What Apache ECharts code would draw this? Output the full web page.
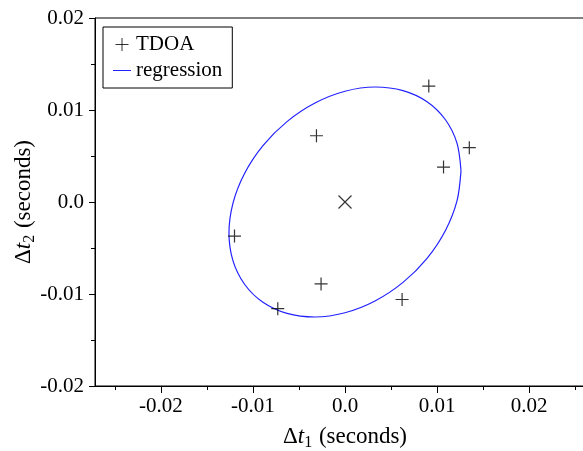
<!DOCTYPE html>
<html>
<head>
<meta charset="utf-8">
<script src="https://cdn.jsdelivr.net/npm/echarts@6/dist/echarts.min.js"></script>
<style>html,body{margin:0;padding:0;background:#fff;}#c{width:583px;height:451px;}</style>
</head>
<body>
<div id="c"></div>
<script>
// TDOA measurements (seconds)
const tdoaX = [0.0091, 0.0135, 0.0107, -0.0031, -0.0120, -0.0026, -0.0073, 0.0062];
const tdoaY = [0.0126, 0.0059, 0.0038, 0.0072, -0.0037, -0.0089, -0.0116, -0.0106];
// centre marker
const centerX = [0.0];
const centerY = [0.0];
// regression ellipse, points
const regX = [0.0126, 0.01217, 0.01091, 0.00891, 0.0063, 0.00326, 0, -0.00326, -0.0063, -0.00891, -0.01091, -0.01217, -0.0126,
              -0.01217, -0.01091, -0.00891, -0.0063, -0.00326, 0, 0.00326, 0.0063, 0.00891, 0.01091, 0.01217, 0.0126];
const regY = [0.00338, 0.00638, 0.00894, 0.01090, 0.01211, 0.01250, 0.01204, 0.01076, 0.00874, 0.00613, 0.00310, -0.00014, -0.00338,
              -0.00638, -0.00894, -0.01090, -0.01211, -0.01250, -0.01204, -0.01076, -0.00874, -0.00613, -0.00310, 0.00014, 0.00338];
// axis ticks
const xMajorTicks = [-0.02, -0.01, 0.0, 0.01, 0.02];
const xMinorTicks = [-0.025, -0.015, -0.005, 0.005, 0.015, 0.025];

const font = 'Liberation Serif';
const fs = 21;
const nfs = 23;
const fmt = v => (Math.abs(v) < 1e-9 ? '0.0' : v.toFixed(2));
const nameRich = {
  d: {fontFamily: font, fontSize: nfs, lineHeight: 26, color: '#000'},
  t: {fontFamily: font, fontSize: nfs, fontStyle: 'italic', lineHeight: 26, color: '#000'},
  s: {fontFamily: font, fontSize: 16, lineHeight: 16, padding: [11, 1, 0, 0], color: '#000'},
  n: {fontFamily: font, fontSize: nfs, lineHeight: 26, color: '#000'}
};

const plusPath = 'path://M0,6.5H13M6.5,0V13';
const crossPath = 'path://M0,0L12,12M12,0L0,12';
const lineIcon = 'path://M0,0H18V1H0Z';

const chart = echarts.init(document.getElementById('c'));
chart.setOption({
  animation: false,
  backgroundColor: '#fff',
  grid: {left: 95, right: -12, top: 18, bottom: 65, outerBoundsMode: 'none', containLabel: false,
         show: true, borderColor: '#000', borderWidth: 1, backgroundColor: 'transparent'},
  legend: {
    left: 103, top: 27, orient: 'vertical',
    padding: [7, 10, 7, 10], itemGap: 5,
    itemWidth: 18, itemHeight: 13,
    borderColor: '#000', borderWidth: 1, backgroundColor: '#fff',
    textStyle: {fontFamily: font, fontSize: fs, color: '#000'},
    data: [
      {name: 'TDOA', itemStyle: {color: 'none', borderColor: '#000', borderWidth: 1}},
      {name: 'regression', icon: lineIcon, itemStyle: {color: '#2222ff', borderWidth: 0}}
    ]
  },
  xAxis: [{
    type: 'value', min: -0.02715, max: 0.02715, position: 'bottom',
    axisLine: {show: true, onZero: false, lineStyle: {color: '#000', width: 1}},
    axisTick: {show: true, length: 7, customValues: xMajorTicks, lineStyle: {color: '#000'}},
    axisLabel: {customValues: xMajorTicks, formatter: fmt, fontFamily: font, fontSize: fs, color: '#000', margin: 10},
    splitLine: {show: false},
    name: '{d|Δ}{t|t}{s|1}{n| (seconds)}', nameLocation: 'middle', nameGap: 38,
    nameTextStyle: {rich: nameRich}
  }, {
    type: 'value', min: -0.02715, max: 0.02715, position: 'bottom', offset: 0,
    axisLine: {show: false, onZero: false},
    axisTick: {show: true, length: 4, customValues: xMinorTicks, lineStyle: {color: '#000'}},
    axisLabel: {show: false},
    splitLine: {show: false}
  }],
  yAxis: {
    type: 'value', min: -0.02, max: 0.02, interval: 0.01,
    axisLine: {show: true, onZero: false, lineStyle: {color: '#000', width: 1}},
    axisTick: {show: true, length: 6, lineStyle: {color: '#000'}},
    minorTick: {show: true, splitNumber: 2, length: 4, lineStyle: {color: '#000'}},
    axisLabel: {formatter: fmt, fontFamily: font, fontSize: fs, color: '#000', margin: 11},
    splitLine: {show: false},
    name: '{d|Δ}{t|t}{s|2}{n| (seconds)}', nameLocation: 'middle', nameGap: 58, nameRotate: 90,
    nameMoveOverlap: false,
    nameTextStyle: {rich: nameRich, padding: [0, 0, 0, 0]}
  },
  series: [{
    name: 'regression', type: 'line', symbol: 'none', smooth: 0.3,
    data: regX.map((x, i) => [x, regY[i]]),
    lineStyle: {color: '#2222ff', width: 1.2},
    z: 2
  }, {
    name: 'TDOA', type: 'scatter', symbol: plusPath, symbolSize: 13,
    data: tdoaX.map((x, i) => [x, tdoaY[i]]),
    itemStyle: {color: 'none', borderColor: '#000', borderWidth: 1.2},
    z: 3
  }, {
    name: 'center', type: 'scatter', symbol: crossPath, symbolSize: 13,
    data: centerX.map((x, i) => [x, centerY[i]]),
    itemStyle: {color: 'none', borderColor: '#000', borderWidth: 1.2},
    z: 3
  }]
});
</script>
</body>
</html>
